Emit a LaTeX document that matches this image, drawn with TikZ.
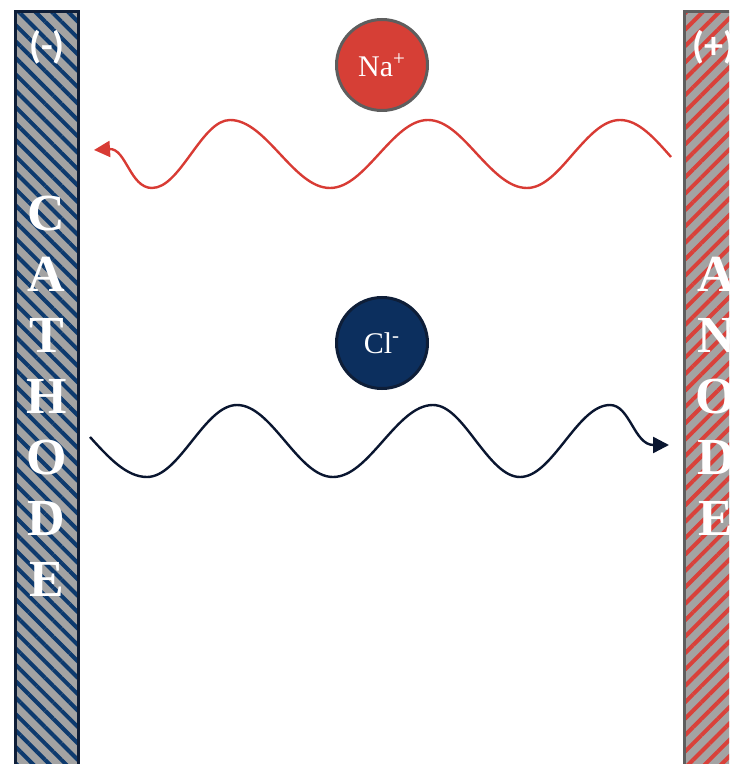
\documentclass[tikz,border=0pt]{standalone}
\usepackage{fontspec}
\setmainfont{Liberation Serif}
\newfontfamily\signfont{Carlito}
\usetikzlibrary{arrows.meta,positioning,patterns.meta}
\definecolor{navy}{HTML}{0D3A6E}
\definecolor{navyedge}{HTML}{0E1E38}
\definecolor{navyion}{HTML}{0C2F5E}
\definecolor{navywave}{HTML}{0A1630}
\definecolor{redstripe}{HTML}{D9413A}
\definecolor{redion}{HTML}{D63F36}
\definecolor{redwave}{HTML}{D83B34}
\definecolor{elecgray}{HTML}{A3A3A3}
\definecolor{edgegray}{HTML}{5E5E5E}

\begin{document}
\begin{tikzpicture}[x=0.5pt,y=-0.5pt,
      electrode/.style={draw, line width=1.5pt, minimum width=31.5pt, minimum height=384pt, inner sep=0pt,
        preaction={fill=elecgray}, text=white, align=center,
        font=\fontsize{26}{30.5}\selectfont\bfseries},
      ion/.style={circle, draw, line width=1.5pt, minimum size=45.5pt, inner sep=0pt, text=white,
        font=\fontsize{15}{17}\selectfont},
      sign/.style={text=white, inner sep=0pt, font=\signfont\fontsize{19}{21}\selectfont\bfseries},
      wave/.style={line width=1.2pt, -{Triangle[length=8pt,width=8pt]}}
    ]
    \useasboundingbox (0,0) rectangle (729,764);
    \clip (0,0) rectangle (729,764);

    % electrodes
    \node[electrode, draw=navyedge, pattern={Lines[angle=-45,distance=5.8pt,line width=2pt]}, pattern color=navy]
      (cathode) at (46.5,396) {C\\A\\T\\H\\O\\D\\E};
    \node[electrode, draw=edgegray, pattern={Lines[angle=45,distance=5.8pt,line width=2pt]}, pattern color=redstripe]
      (anode) at (716,396) {A\\N\\O\\D\\E};
    \node[sign] (minus) at (47,47) {(-)};
    \node[sign] (plus) at (714,47) {(+)};

    % ions
    \node[ion, fill=redion, draw=edgegray] (na) at (382,65) {Na\textsuperscript{+}};
    \node[ion, fill=navyion, draw=navyedge] (cl) at (382,343) {Cl\textsuperscript{-}};

    % migration paths
    \coordinate (nastart) at (671,157);
    \coordinate (naend) at (94,150);
    \coordinate (clstart) at (90,437);
    \coordinate (clend) at (669,445);

    \draw[wave, redwave] (nastart) sin (620,120) cos (573,154) sin (527,188) cos (477,154)
      sin (428,120) cos (379,154) sin (330,188) cos (280,154) sin (230,120) cos (191,154)
      sin (152,188) .. controls (130,188) and (126,148) .. (naend);
    \draw[wave, navywave] (clstart) sin (147,477) cos (192,441) sin (237,405) cos (285,441)
      sin (333,477) cos (383,441) sin (433,405) cos (476,441) sin (520,477) cos (565,441)
      sin (610,405) .. controls (630,405) and (634,445) .. (clend);
  \end{tikzpicture}
\end{document}
